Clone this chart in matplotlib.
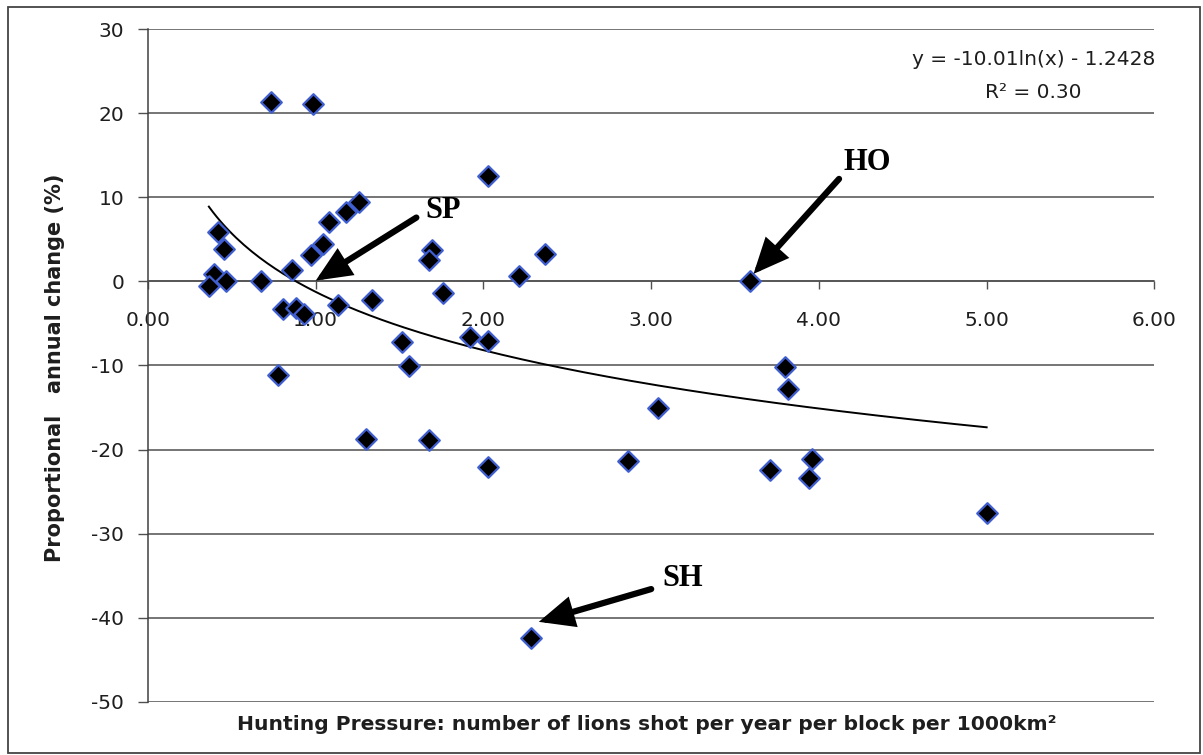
import numpy as np
import matplotlib.pyplot as plt
from matplotlib.patches import Rectangle

# pressão de caça (leões abatidos / ano / bloco / 1000 km2) e variação anual (%)
pressao = [0.733, 0.986, 2.03, 1.259, 1.18, 1.079, 0.419, 0.456, 1.045, 0.974,
           0.861, 1.694, 1.674, 2.366, 2.21, 0.393, 0.363, 0.464, 0.676, 0.804,
           0.881, 0.93, 1.134, 1.334, 1.761, 1.514, 1.555, 1.921, 2.026, 0.778,
           1.298, 1.674, 2.028, 2.86, 3.042, 3.592, 3.797, 3.817, 3.71, 3.96,
           3.94, 5.0, 2.283]
variacao = [21.3, 21.1, 12.6, 9.4, 8.3, 7.1, 5.9, 3.9, 4.4, 3.2,
            1.4, 3.8, 2.6, 3.3, 0.7, 0.9, -0.6, 0.0, 0.0, -3.3,
            -3.1, -3.9, -2.8, -2.2, -1.4, -7.2, -10.1, -6.6, -7.1, -11.1,
            -18.8, -18.9, -22.1, -21.4, -15.1, 0.0, -10.2, -12.8, -22.4, -21.1,
            -23.4, -27.6, -42.4]

# tendência logarítmica
coef_a = -10.01
coef_b = -1.2428
r2 = 0.30

# blocos destacados: rótulo, ponta da seta, início da seta, posição do texto
destaques = [
    ("SP", (1.0, 0.1), (1.60, 7.6), (1.76, 8.4)),
    ("HO", (3.61, 0.9), (4.12, 12.2), (4.29, 14.1)),
    ("SH", (2.33, -40.5), (3.00, -36.6), (3.19, -35.4)),
]

xticks = [0, 1, 2, 3, 4, 5, 6]
yticks = [30, 20, 10, 0, -10, -20, -30, -40, -50]

plt.rcParams['font.family'] = ['DejaVu Sans']
plt.rcParams['axes.unicode_minus'] = False

fig = plt.figure(figsize=(12.03, 7.55), dpi=100)
ax = fig.add_axes([0.1230, 0.0706, 0.8366, 0.8906])

ax.set_xlim(0, 6)
ax.set_ylim(-50, 30)
ax.set_xticks(xticks)
ax.set_xticklabels([f"{v:.2f}" for v in xticks])
ax.set_yticks(yticks)

ax.yaxis.grid(True, color="#505050", lw=1.1)
ax.set_axisbelow(True)

for s in ["top", "right"]:
    ax.spines[s].set_visible(False)
ax.spines["bottom"].set_position(("data", 0))
ax.spines["bottom"].set_color("#505050")
ax.spines["bottom"].set_linewidth(1.1)
ax.spines["left"].set_color("#404040")
ax.spines["left"].set_linewidth(1.1)

ax.tick_params(axis="x", direction="out", length=6, width=1, color="#505050",
               labelsize=14.5, pad=15, labelcolor="#1e1e1e")
ax.tick_params(axis="y", direction="out", length=7, width=1, color="#505050",
               labelsize=14.5, pad=10, labelcolor="#1e1e1e")

# curva de tendência no intervalo dos dados
xs = np.linspace(min(pressao), max(pressao), 200)
ax.plot(xs, coef_a * np.log(xs) + coef_b, color="black", lw=1.4, zorder=3)

ax.scatter(pressao, variacao, marker="D", s=110, c="black",
           edgecolors="#3f5fd0", linewidths=1.6, zorder=4)

for rotulo, ponta, inicio, pos in destaques:
    ax.annotate("", xy=ponta, xytext=inicio,
                arrowprops=dict(arrowstyle="-|>,head_length=0.9,head_width=0.4",
                                mutation_scale=20, lw=4.5, color="black",
                                joinstyle="miter", shrinkA=0, shrinkB=0),
                zorder=5)
    ax.text(pos[0], pos[1], rotulo, family="Liberation Serif", weight="bold",
            fontsize=22, ha="center", va="center", zorder=5)

ax.text(5.28, 26.4, f"y = {coef_a:.2f}ln(x) - {abs(coef_b):.4f}",
        fontsize=14.5, ha="center", va="center", color="#1e1e1e")
ax.text(5.28, 22.5, f"R² = {r2:.2f}", fontsize=14.5, ha="center", va="center",
        color="#1e1e1e")

fig.text(55 / 1203, 1 - 368 / 755, "Proportional   annual change (%)",
         rotation=90, ha="center", va="center", fontsize=15, weight="bold",
         color="#1e1e1e")
fig.text(647 / 1203, 1 - 724 / 755,
         "Hunting Pressure: number of lions shot per year per block per 1000km²",
         ha="center", va="center", fontsize=14.6, weight="bold", color="#1e1e1e")

# moldura em volta da figura
fig.patches.append(Rectangle((8 / 1203, 2 / 755), 1192 / 1203, 746 / 755,
                             transform=fig.transFigure, fill=False,
                             edgecolor="#444444", lw=1.3))

fig.savefig("out.png", dpi=100)
